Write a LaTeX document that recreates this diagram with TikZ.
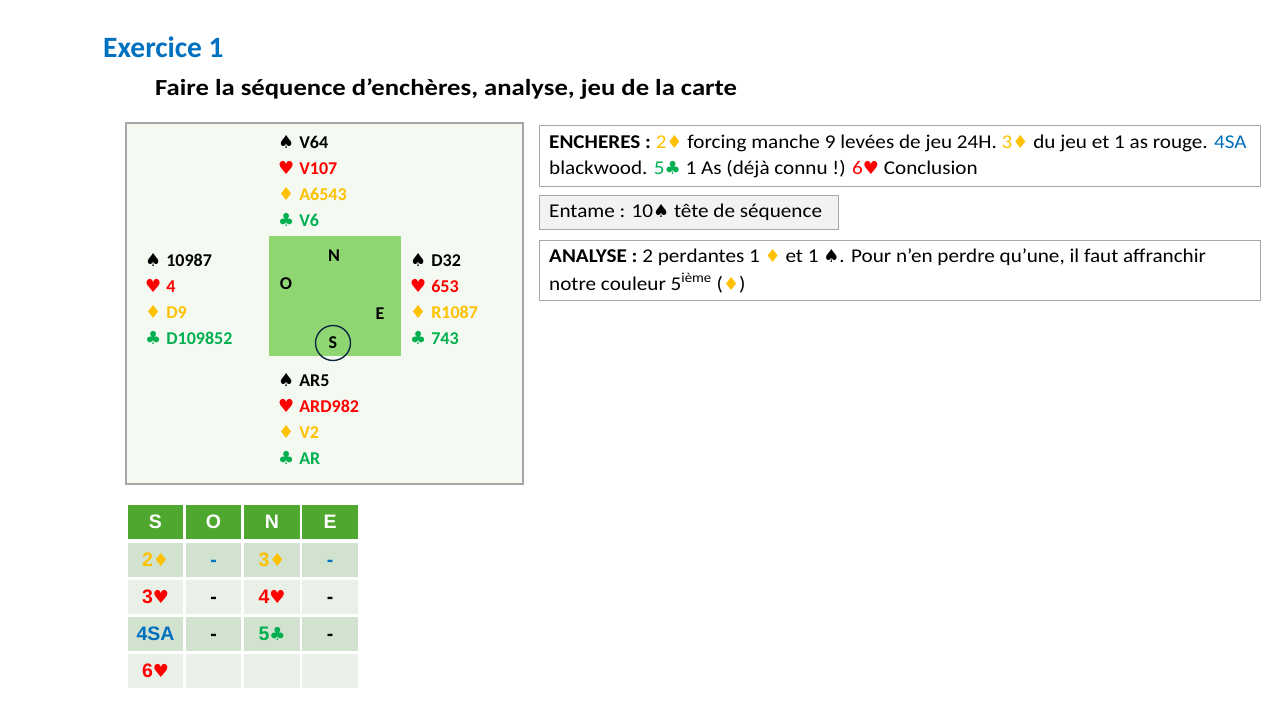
\documentclass[tikz,border=0pt]{standalone}
\usepackage{fontspec}
\setmainfont{Carlito}
\newfontfamily\wide[FakeStretch=1.085]{Carlito}
\newfontfamily\wider[FakeStretch=1.16]{Carlito}
\newfontfamily\sym{DejaVu Sans}
\newfontfamily\arialf{Liberation Sans}
\definecolor{ora}{HTML}{FFC000}
\definecolor{rd}{HTML}{FF0000}
\definecolor{grn}{HTML}{00B050}
\definecolor{blu}{HTML}{0070C0}
\definecolor{boxgray}{HTML}{A6A6A6}
\definecolor{handbg}{HTML}{F4FAF1}
\definecolor{tablegreen}{HTML}{8FD673}
\definecolor{hdr}{HTML}{4EA72E}
\definecolor{rowa}{HTML}{D1E2CF}
\definecolor{rowb}{HTML}{E9F0E8}
\definecolor{navy}{HTML}{0E2841}
\definecolor{entbg}{HTML}{F2F2F2}
\newcommand{\Sp}{{\sym\fontsize{18}{18}\selectfont\char"2660}}
\newcommand{\Ht}{{\sym\fontsize{18}{18}\selectfont\char"2665}}
\newcommand{\Di}{{\sym\fontsize{18}{18}\selectfont\char"2666}}
\newcommand{\Cl}{{\sym\fontsize{18}{18}\selectfont\char"2663}}
\begin{document}
\begin{tikzpicture}[x=1pt,y=-1pt,
  hand/.style={anchor=west,inner sep=0pt,font=\fontsize{18}{20}\selectfont\bfseries},
  btxt/.style={anchor=west,inner sep=0pt,font=\wide\fontsize{19.5}{26}\selectfont,align=left},
  cell/.style={minimum width=57pt,minimum height=35.5pt,inner sep=0pt,text height=13.5pt,text depth=0pt,draw=white,line width=1.2pt,font=\arialf\bfseries\fontsize{19.5}{20}\selectfont},
  hcell/.style={cell,fill=hdr,text=white},
  ca/.style={cell,fill=rowa},
  cb/.style={cell,fill=rowb},
  compass/.style={inner sep=0pt,font=\fontsize{18}{20}\selectfont\bfseries}]
\useasboundingbox (0,0) rectangle (1280,720);
\fill[white] (0,0) rectangle (1280,720);
% titles
\node[anchor=west,inner sep=0pt,text=blu,font=\fontsize{29.5}{34}\selectfont\bfseries] (title) at (103,47) {Exercice 1};
\node[anchor=west,inner sep=0pt,font=\wider\fontsize{23}{28}\selectfont\bfseries] (subtitle) at (155,89) {Faire la séquence d’enchères, analyse, jeu de la carte};
% hand box
\draw[draw=boxgray,line width=2pt,fill=handbg] (126,123) rectangle (523,484);
\fill[tablegreen] (269,236) rectangle (401,356);
\node[compass] (cN) at (334,256) {N};
\node[compass] (cO) at (286,284) {O};
\node[compass] (cE) at (380,314) {E};
\node[compass] (cS) at (333,343) {S};
\draw[navy,line width=1.4pt] (cS.center) circle (17.5);
% North
\node[hand] (n1) at (278,142) {\Sp\hspace{5pt}V64};
\node[hand,text=rd] (n2) at (278,168) {\Ht\hspace{5pt}V107};
\node[hand,text=ora] (n3) at (278,194) {\Di\hspace{5pt}A6543};
\node[hand,text=grn] (n4) at (278,220) {\Cl\hspace{5pt}V6};
% West
\node[hand] (w1) at (145,260) {\Sp\hspace{5pt}10987};
\node[hand,text=rd] (w2) at (145,286) {\Ht\hspace{5pt}4};
\node[hand,text=ora] (w3) at (145,312) {\Di\hspace{5pt}D9};
\node[hand,text=grn] (w4) at (145,338) {\Cl\hspace{5pt}D109852};
% East
\node[hand] (e1) at (410,260) {\Sp\hspace{5pt}D32};
\node[hand,text=rd] (e2) at (410,286) {\Ht\hspace{5pt}653};
\node[hand,text=ora] (e3) at (410,312) {\Di\hspace{5pt}R1087};
\node[hand,text=grn] (e4) at (410,338) {\Cl\hspace{5pt}743};
% South
\node[hand] (s1) at (278,380) {\Sp\hspace{5pt}AR5};
\node[hand,text=rd] (s2) at (278,406) {\Ht\hspace{5pt}ARD982};
\node[hand,text=ora] (s3) at (278,432) {\Di\hspace{5pt}V2};
\node[hand,text=grn] (s4) at (278,458) {\Cl\hspace{5pt}AR};
% text boxes
\draw[draw=boxgray,line width=1pt] (539,125) rectangle (1260,186);
\node[btxt] (ench1) at (549,143) {\textbf{ENCHERES :} {\color{ora}2\Di} forcing manche 9 levées de jeu 24H. {\color{ora}3\Di} du jeu et 1 as rouge. {\color{blu}4SA}};
\node[btxt] (ench2) at (549,169) {blackwood. {\color{grn}5\Cl} 1 As (déjà connu !) {\color{rd}6\Ht} Conclusion};
\draw[draw=boxgray,line width=1pt,fill=entbg] (539,195) rectangle (838,229);
\node[btxt] (entame) at (549,212) {Entame : 10\Sp\ tête de séquence};
\draw[draw=boxgray,line width=1pt] (539,240) rectangle (1260,300);
\node[btxt] (ana1) at (549,257) {\textbf{ANALYSE :} 2 perdantes 1 {\color{ora}\Di} et 1 \Sp. Pour n’en perdre qu’une, il faut affranchir};
\node[btxt] (ana2) at (549,283) {notre couleur 5\textsuperscript{ième} ({\color{ora}\Di})};
% bidding table
\node[hcell] (hS) at (155.5,522) {S};
\node[hcell] (hO) at (213.5,522) {O};
\node[hcell] (hN) at (272,522) {N};
\node[hcell] (hE) at (330,522) {E};
\node[ca,text=ora] (r1S) at (155.5,560) {2\Di};
\node[ca,text=blu] (r1O) at (213.5,560) {-};
\node[ca,text=ora] (r1N) at (272,560) {3\Di};
\node[ca,text=blu] (r1E) at (330,560) {-};
\node[cb,text=rd] (r2S) at (155.5,597) {3\Ht};
\node[cb] (r2O) at (213.5,597) {-};
\node[cb,text=rd] (r2N) at (272,597) {4\Ht};
\node[cb] (r2E) at (330,597) {-};
\node[ca,text=blu] (r3S) at (155.5,634) {4SA};
\node[ca] (r3O) at (213.5,634) {-};
\node[ca,text=grn] (r3N) at (272,634) {5\Cl};
\node[ca] (r3E) at (330,634) {-};
\node[cb,text=rd] (r4S) at (155.5,671) {6\Ht};
\node[cb] (r4O) at (213.5,671) {};
\node[cb] (r4N) at (272,671) {};
\node[cb] (r4E) at (330,671) {};
\end{tikzpicture}
\end{document}
